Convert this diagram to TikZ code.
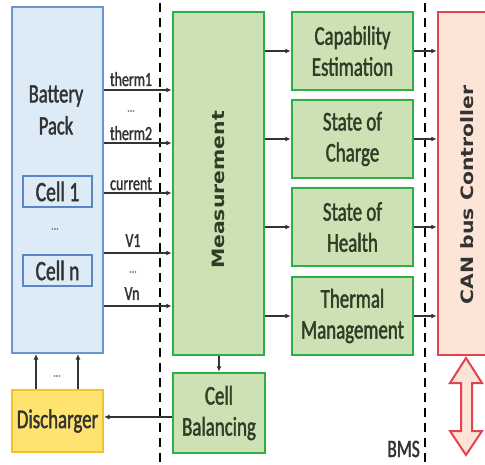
\documentclass[tikz,border=0pt]{standalone}
\usepackage{fontspec}
\setmainfont{Carlito}[FakeStretch=0.7,FakeBold=1.5]
\newfontfamily\rotfont{DejaVu Sans}
\usetikzlibrary{arrows.meta,calc}
\definecolor{gfill}{HTML}{CDE2B4}
\definecolor{gline}{HTML}{2EAD4B}
\definecolor{bfill}{HTML}{DDEBF7}
\definecolor{bline}{HTML}{6A95D2}
\definecolor{cline}{HTML}{5B86C6}
\definecolor{yfill}{HTML}{FFE370}
\definecolor{yline}{HTML}{F4C22B}
\definecolor{rfill}{HTML}{FCE5D7}
\definecolor{rline}{HTML}{E3434F}
\definecolor{txt}{HTML}{333333}
\definecolor{gtxt}{HTML}{2F3D27}
\definecolor{dots}{HTML}{808080}
\tikzset{
  box/.style={draw, rectangle, inner sep=0pt, align=center, text=gtxt,
    font=\fontsize{27}{31}\selectfont},
  gbox/.style={box, fill=gfill, draw=gline, line width=2.5pt},
  cellbox/.style={box, fill=bfill, draw=cline, line width=2pt, text=txt,
    minimum width=69pt, minimum height=31pt, font=\fontsize{28}{30}\selectfont},
  arr/.style={draw=txt, line width=1.1pt, -{Latex[length=5.5pt,width=5pt]}},
  lbl/.style={font=\fontsize{20}{20}\selectfont, text=txt, inner sep=0pt, anchor=base},
  dotlbl/.style={font=\fontsize{14}{14}\selectfont, text=dots, inner sep=0pt},
  bmsline/.style={draw=black, line width=2pt, dash pattern=on 9pt off 6pt},
  rottxt/.style={rotate=90, inner sep=0pt, font=\rotfont\bfseries\fontsize{17}{20}\selectfont}
}
\begin{document}
\begin{tikzpicture}[x=1pt,y=-1pt]
\useasboundingbox (0,0) rectangle (485,465);
\clip (0,0) rectangle (485,465);
\fill[white] (0,0) rectangle (485,465);

% BMS boundary lines
\coordinate (d1t) at (160,3);  \coordinate (d1b) at (160,465);
\coordinate (d2t) at (425,3);  \coordinate (d2b) at (425,465);
\draw[bmsline] (d1t) -- (d1b);
\draw[bmsline] (d2t) -- (d2b);

% Battery pack
\node[box, fill=bfill, draw=bline, line width=2pt, minimum width=91pt, minimum height=346pt] (bat) at (57.5,180) {};
\node[align=center, inner sep=0pt, text=txt, font=\fontsize{26.5}{32}\selectfont] (battxt) at (56,110) {Battery\\Pack};
\node[cellbox] (c1) at (57.5,191.5) {Cell 1};
\node[dotlbl] (cdots) at (55,229) {...};
\node[cellbox] (cn) at (57.5,270.5) {Cell n};

% Measurement
\node[gbox, minimum width=91pt, minimum height=343pt] (meas) at (218.5,183.5) {};
\node[rottxt, text=gtxt] (meastxt) at (218,190) {\scalebox{1.2}[1]{Measurement}};

% Right column
\node[gbox, minimum width=121pt, minimum height=78pt] (cap) at (352.5,51) {Capability\\Estimation};
\node[gbox, minimum width=121pt, minimum height=78pt] (soc) at (352.5,139) {State of\\Charge};
\node[gbox, minimum width=121pt, minimum height=78pt] (soh) at (352.5,227) {State of\\Health};
\node[gbox, minimum width=121pt, minimum height=78pt] (thm) at (352.5,316) {Thermal\\Management};

% CAN bus
\node[box, fill=rfill, draw=rline, line width=2.5pt, minimum width=62pt, minimum height=343pt] (can) at (469,183.5) {};
\node[rottxt, text=txt] (cantxt) at (467,195) {\scalebox{1.2}[1]{CAN bus Controller}};

% Cell balancing and discharger
\node[gbox, minimum width=92pt, minimum height=80pt] (cb) at (219,413) {Cell\\Balancing};
\node[box, fill=yfill, draw=yline, line width=2pt, text=txt, minimum width=91pt, minimum height=62pt] (dis) at (57.5,421) {Discharger};

% Sensor arrows
\coordinate (y1) at (0,90);
\coordinate (y2) at (0,143);
\coordinate (y3) at (0,193);
\coordinate (y4) at (0,253);
\coordinate (y5) at (0,306);
\foreach \c in {y1,y2,y3,y4,y5}{
  \draw[arr] (bat.east |- \c) -- (meas.west |- \c);
}
\node[lbl] (l1) at (131,86) {therm1};
\node[dotlbl] (ld1) at (131,111) {...};
\node[lbl] (l2) at (131,140) {therm2};
\node[lbl] (l3) at (131,190) {current};
\node[lbl] (l4) at (133,247) {V1};
\node[dotlbl] (ld2) at (133,272) {...};
\node[lbl] (l5) at (132,300) {Vn};

% Measurement to estimators, estimators to CAN
\foreach \b in {cap,soc,soh,thm}{
  \draw[arr] (meas.east |- \b.west) -- (\b.west);
  \draw[arr] (\b.east) -- (can.west |- \b.east);
}

% Measurement to cell balancing
\draw[arr] (meas.south -| cb.north) -- (cb.north);
% Cell balancing to discharger
\coordinate (yd) at (0,417);
\draw[arr] (cb.west |- yd) -- (dis.east |- yd);
% Discharger to battery
\coordinate (xa) at (36,0);
\coordinate (xb) at (78,0);
\draw[arr] (dis.north -| xa) -- (bat.south -| xa);
\draw[arr] (dis.north -| xb) -- (bat.south -| xb);
\node[dotlbl] (ddots) at (57,376) {...};

% BMS label
\node[inner sep=0pt, anchor=base east, text=txt, font=\fontsize{25}{25}\selectfont] (bms) at (420,457) {BMS};

% CAN bus double arrow
\draw[draw=rline, fill=rfill, line width=2pt, line join=miter]
  (466,358) -- (482,383) -- (472,383) -- (472,431) -- (482,431) -- (466,455)
  -- (450,431) -- (461,431) -- (461,383) -- (450,383) -- cycle;
\end{tikzpicture}
\end{document}
